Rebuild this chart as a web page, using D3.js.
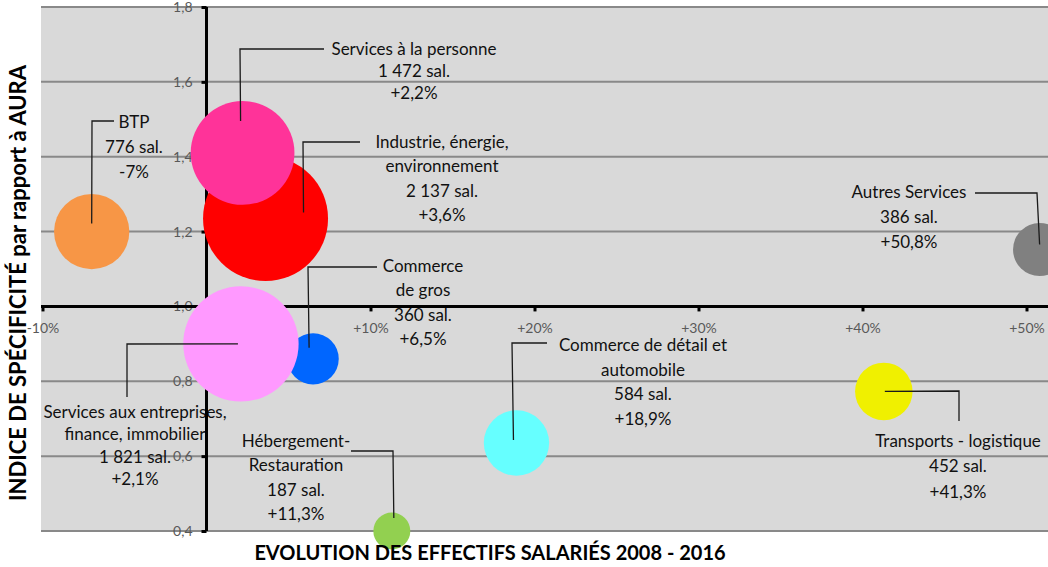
<!DOCTYPE html>
<html>
<head>
<meta charset="utf-8">
<script src="https://cdn.jsdelivr.net/npm/d3@7"></script>
<style>
  body { margin: 0; background: #fff; }
  text { font-family: Lato, "Open Sans", sans-serif; }
</style>
</head>
<body>
<div class="canvas"></div>
<script>
// data
const sectors = ["Industrie", "Services à la personne", "Commerce de gros", "Services aux entreprises",
                 "BTP", "Commerce de détail", "Hébergement", "Transports", "Autres Services"];
const labelLines = [
  ["Industrie, énergie,", "environnement"],
  ["Services à la personne"],
  ["Commerce", "de gros"],
  ["Services aux entreprises,", "finance, immobilier"],
  ["BTP"],
  ["Commerce de détail et", "automobile"],
  ["Hébergement-", "Restauration"],
  ["Transports - logistique"],
  ["Autres Services"]
];
const evolution   = [3.6, 2.2, 6.5, 2.1, -7, 18.9, 11.3, 41.3, 50.8];
const specificity = [1.235, 1.41, 0.86, 0.9, 1.2, 0.635, 0.4, 0.773, 1.152];
const salaries    = [2137, 1472, 360, 1821, 776, 584, 187, 452, 386];
const colors = ["#ff0000", "#ff3399", "#0066ff", "#ff99ff", "#f79646", "#66ffff", "#92d050", "#f0f000", "#808080"];
const yTicks = [0.4, 0.6, 0.8, 1.0, 1.2, 1.4, 1.6, 1.8];
const xTicks = [-10, 0, 10, 20, 30, 40, 50];

// label placement (pixels): text centre, first line y, line gap, leader
const labelPos = {
  "Industrie":                {tx: 442, ty: 142, lh: 24.5, from: [38, -6],  corner: [303, 142], to: [360, 142]},
  "Services à la personne":   {tx: 414, ty: 49,  lh: 22,   from: [-2, -32], corner: [240, 49],  to: [324, 49]},
  "Commerce de gros":         {tx: 423, ty: 266, lh: 24.5, from: [-4, -11], corner: [308, 267], to: [377, 267]},
  "Services aux entreprises": {tx: 135, ty: 412, lh: 22.5, from: [-3, 0],   corner: [127, 344], to: [127, 397]},
  "BTP":                      {tx: 134, ty: 122, lh: 25,   from: [0, -8],   corner: [92, 121],  to: [114, 121]},
  "Commerce de détail":       {tx: 643, ty: 345, lh: 24.7, from: [-3, -3],  corner: [512, 343], to: [547, 343]},
  "Hébergement":              {tx: 296, ty: 441, lh: 24.5, from: [2, -13],  corner: [393, 451], to: [351, 451]},
  "Transports":               {tx: 958, ty: 441, lh: 25.5, from: [1, 0],    corner: [959, 391], to: [959, 421]},
  "Autres Services":          {tx: 909, ty: 192, lh: 25,   from: [0, -5],   corner: [1037, 193], to: [975, 193]}
};

const width = 1048, height = 567;
const svg = d3.select(".canvas").append("svg").attr("width", width).attr("height", height);

const x = d3.scaleLinear().domain([-10, 60]).range([42.5, 42.5 + 70 * 16.4]);
const y = d3.scaleLinear().domain([0.4, 1.8]).range([531, 7]);
const r = d3.scaleSqrt().domain([0, 2137]).range([0, 62.5]);

const fmtNum = d => d3.format(",")(d).replace(/,/g, " ");
const fmtPct = d => (d > 0 ? "+" : "") + String(d).replace(".", ",") + "%";

// plot area
svg.append("rect")
  .attr("x", 41).attr("y", y(1.8))
  .attr("width", width - 41).attr("height", y(0.4) - y(1.8))
  .attr("fill", "#d9d9d9");

svg.append("g").selectAll("line")
  .data(yTicks)
  .join("line")
  .attr("x1", 41).attr("x2", width)
  .attr("y1", d => y(d)).attr("y2", d => y(d))
  .attr("stroke", "#898989").attr("stroke-width", 2);

// label texts (drawn under the axes like the original)
const labels = svg.append("g");
sectors.forEach((s, i) => {
  const p = labelPos[s];
  const lines = labelLines[i].concat([fmtNum(salaries[i]) + " sal.", fmtPct(evolution[i])]);
  labels.append("text")
    .attr("text-anchor", "middle")
    .attr("font-size", "17px")
    .attr("fill", "#111")
    .selectAll("tspan")
    .data(lines)
    .join("tspan")
    .attr("x", p.tx)
    .attr("y", (d, k) => p.ty + k * p.lh)
    .attr("dy", "0.35em")
    .text(d => d);
});

// axes
const yAxis = svg.append("g")
  .attr("transform", `translate(${x(0)},0)`)
  .call(d3.axisLeft(y).tickValues(yTicks).tickSize(5).tickSizeOuter(0).tickPadding(9)
    .tickFormat(d => d.toFixed(1).replace(".", ",")));

const xAxis = svg.append("g")
  .attr("transform", `translate(0,${y(1.0)})`)
  .call(d3.axisBottom(x).tickValues(xTicks).tickSize(5).tickSizeOuter(0)
    .tickFormat(d => (d > 0 ? "+" : "") + d + "%"));

[yAxis, xAxis].forEach(a => {
  a.select(".domain").attr("stroke", "#000").attr("stroke-width", 3);
  a.selectAll(".tick line").attr("stroke", "#000").attr("stroke-width", 3);
  a.selectAll(".tick text").attr("fill", "#595959").attr("font-size", "14px")
    .attr("font-family", "Lato, sans-serif");
});
xAxis.select(".domain").attr("d", `M41,0H${width}`);
yAxis.select(".domain").attr("d", `M0,${y(1.8)}V${y(0.4)}`);
xAxis.selectAll(".tick text").attr("y", 22).attr("dy", "0.35em");

// bubbles
svg.append("g").selectAll("circle")
  .data(sectors)
  .join("circle")
  .attr("cx", (d, i) => x(evolution[i]))
  .attr("cy", (d, i) => y(specificity[i]))
  .attr("r", (d, i) => r(salaries[i]))
  .attr("fill", (d, i) => colors[i]);

// leader lines
svg.append("g").selectAll("path")
  .data(sectors)
  .join("path")
  .attr("d", (s, i) => {
    const p = labelPos[s];
    const x0 = x(evolution[i]) + p.from[0], y0 = y(specificity[i]) + p.from[1];
    return `M${x0},${y0}L${p.corner[0]},${p.corner[1]}L${p.to[0]},${p.to[1]}`;
  })
  .attr("fill", "none")
  .attr("stroke", "#1a1a1a")
  .attr("stroke-width", 1.3);

// axis titles
svg.append("text")
  .attr("x", 490).attr("y", 553).attr("dy", "0.35em")
  .attr("text-anchor", "middle")
  .attr("font-size", "20px").attr("font-weight", "bold")
  .text("EVOLUTION DES EFFECTIFS SALARIÉS 2008 - 2016");

svg.append("text")
  .attr("transform", "translate(18,283) rotate(-90)")
  .attr("dy", "0.35em")
  .attr("text-anchor", "middle")
  .attr("font-size", "22px").attr("font-weight", "bold")
  .text("INDICE DE SPÉCIFICITÉ par rapport à AURA");
</script>
</body>
</html>
